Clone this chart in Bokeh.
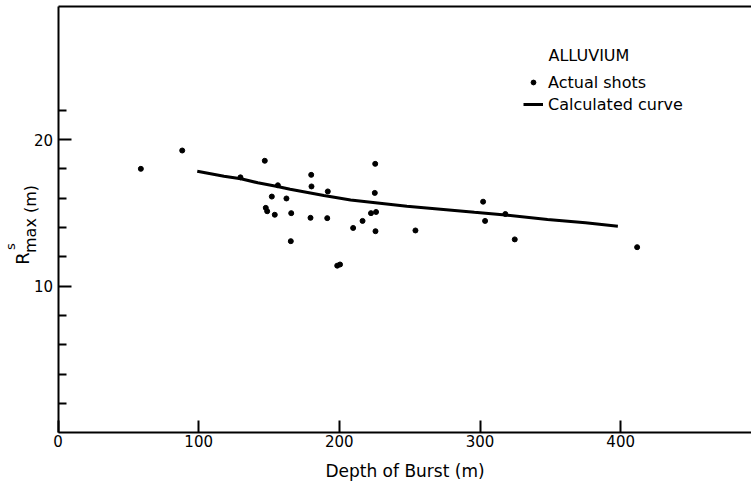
import math
from bokeh.plotting import figure
from bokeh.models import Range1d, FixedTicker, Label, Legend, LegendItem, LinearAxis
from bokeh.embed import file_html
from bokeh.resources import INLINE

# ---- data ----
shot_depth = [58.9, 88.3, 129.7, 147.0, 147.7, 148.7, 152.0, 154.1, 156.3, 162.4,
              165.5, 165.8, 179.5, 180.0, 180.2, 191.4, 191.8, 198.5, 200.5, 209.8,
              216.5, 222.5, 225.5, 225.2, 226.1, 225.7, 254.1, 302.2, 303.6, 318.0,
              324.7, 411.7]
shot_rmax = [18.0, 19.25, 17.42, 18.55, 15.34, 15.11, 16.11, 14.87, 16.88, 15.98,
             13.07, 14.98, 14.66, 17.59, 16.80, 14.64, 16.46, 11.40, 11.48, 13.97,
             14.45, 14.98, 18.34, 16.36, 15.06, 13.75, 13.80, 15.76, 14.45, 14.92,
             13.19, 12.66]
curve_depth = [99, 118, 130, 142, 156, 165, 189, 208, 248, 296, 318, 348, 375, 398]
curve_rmax = [17.84, 17.50, 17.32, 17.05, 16.80, 16.61, 16.18, 15.88, 15.45, 15.04,
              14.86, 14.55, 14.32, 14.09]
x_ticks = [0, 100, 200, 300, 400]
y_major = [10, 20]
y_minor = [2, 4, 6, 8, 12, 14, 16, 18, 22]

FONT = "DejaVu Sans"
W, H = 751, 482
# pixel calibration of the reference (x=0 and y=0 positions, px per unit)
X0, KX = 57.5, 1.4067
Y0, KY = 432.4, 14.67
X_START, X_END = -X0 / KX, (W - X0) / KX
Y_START, Y_END = -(H - Y0) / KY, Y0 / KY
X_MAX = X_END            # plotted region reaches the right edge
Y_MAX = (Y0 - 6) / KY    # top border line

p = figure(width=W, height=H, x_range=Range1d(X_START, X_END), y_range=Range1d(Y_START, Y_END),
           output_backend="svg", toolbar_location=None,
           x_axis_location=None, y_axis_location=None,
           min_border=0, min_border_left=0, min_border_right=0,
           min_border_top=0, min_border_bottom=0)
p.outline_line_color = None
p.grid.visible = False
p.background_fill_color = "white"
p.border_fill_color = "white"


def style(ax):
    ax.axis_line_width = 2
    ax.axis_line_color = "black"
    ax.major_tick_line_width = 2
    ax.major_tick_line_color = "black"
    ax.minor_tick_line_width = 2
    ax.minor_tick_line_color = "black"
    ax.major_tick_out = 0
    ax.minor_tick_out = 0
    ax.major_label_text_font = FONT
    ax.major_label_text_font_size = "15px"
    ax.major_label_text_color = "black"


xaxis = LinearAxis(fixed_location=0, bounds=(0, X_MAX), ticker=FixedTicker(ticks=x_ticks))
style(xaxis)
xaxis.major_tick_in = 12
xaxis.minor_tick_in = 0
xaxis.minor_tick_line_color = None
xaxis.major_label_standoff = 2
xaxis.axis_label = "Depth of Burst (m)"
xaxis.axis_label_text_font = FONT
xaxis.axis_label_text_font_size = "17px"
xaxis.axis_label_text_font_style = "normal"
xaxis.axis_label_text_color = "black"
xaxis.axis_label_standoff = 11
p.add_layout(xaxis, "below")

yaxis = LinearAxis(fixed_location=0, bounds=(0, Y_MAX),
                   ticker=FixedTicker(ticks=y_major, minor_ticks=y_minor))
style(yaxis)
yaxis.major_tick_in = 13
yaxis.minor_tick_in = 8
yaxis.major_label_standoff = 5
p.add_layout(yaxis, "left")

topaxis = LinearAxis(fixed_location=Y_MAX, bounds=(0, X_MAX), ticker=FixedTicker(ticks=[]),
                     major_label_text_font_size="0px")
topaxis.axis_line_width = 2
topaxis.axis_line_color = "black"
p.add_layout(topaxis, "above")

# data
pts = p.scatter(shot_depth, shot_rmax, size=5, color="black")
curve = p.line(curve_depth, curve_rmax, line_width=3, color="black")


def at(ax, ay):
    """convert a page pixel position to data coordinates"""
    return (ax - X0) / KX, (Y0 - ay) / KY


def lab(text, ax, ay, size, angle=0.0, align="left", baseline="alphabetic"):
    x, y = at(ax, ay)
    p.add_layout(Label(x=x, y=y, text=text, text_font=FONT, text_font_size=size,
                       angle=angle, text_align=align, text_baseline=baseline,
                       text_color="black"))


# y-axis title R^s_max (m)
lab("R", 22, 258, "18px", angle=math.pi / 2, align="center")
lab("s", 10, 246, "13px", angle=math.pi / 2, align="center")
lab("max (m)", 30, 218.5, "16px", angle=math.pi / 2, align="center")

# legend
lab("ALLUVIUM", 548, 55, "16px")
legend = Legend(items=[LegendItem(label="Actual shots", renderers=[pts]),
                       LegendItem(label="Calculated curve", renderers=[curve])],
                location=(523, 368), padding=0, margin=0, spacing=2,
                glyph_width=20, glyph_height=12, label_height=20, label_standoff=5,
                label_text_font=FONT, label_text_font_size="16px", label_text_color="black",
                border_line_color=None, background_fill_alpha=0)
p.add_layout(legend)

open("out.html", "w").write(file_html(p, INLINE))
